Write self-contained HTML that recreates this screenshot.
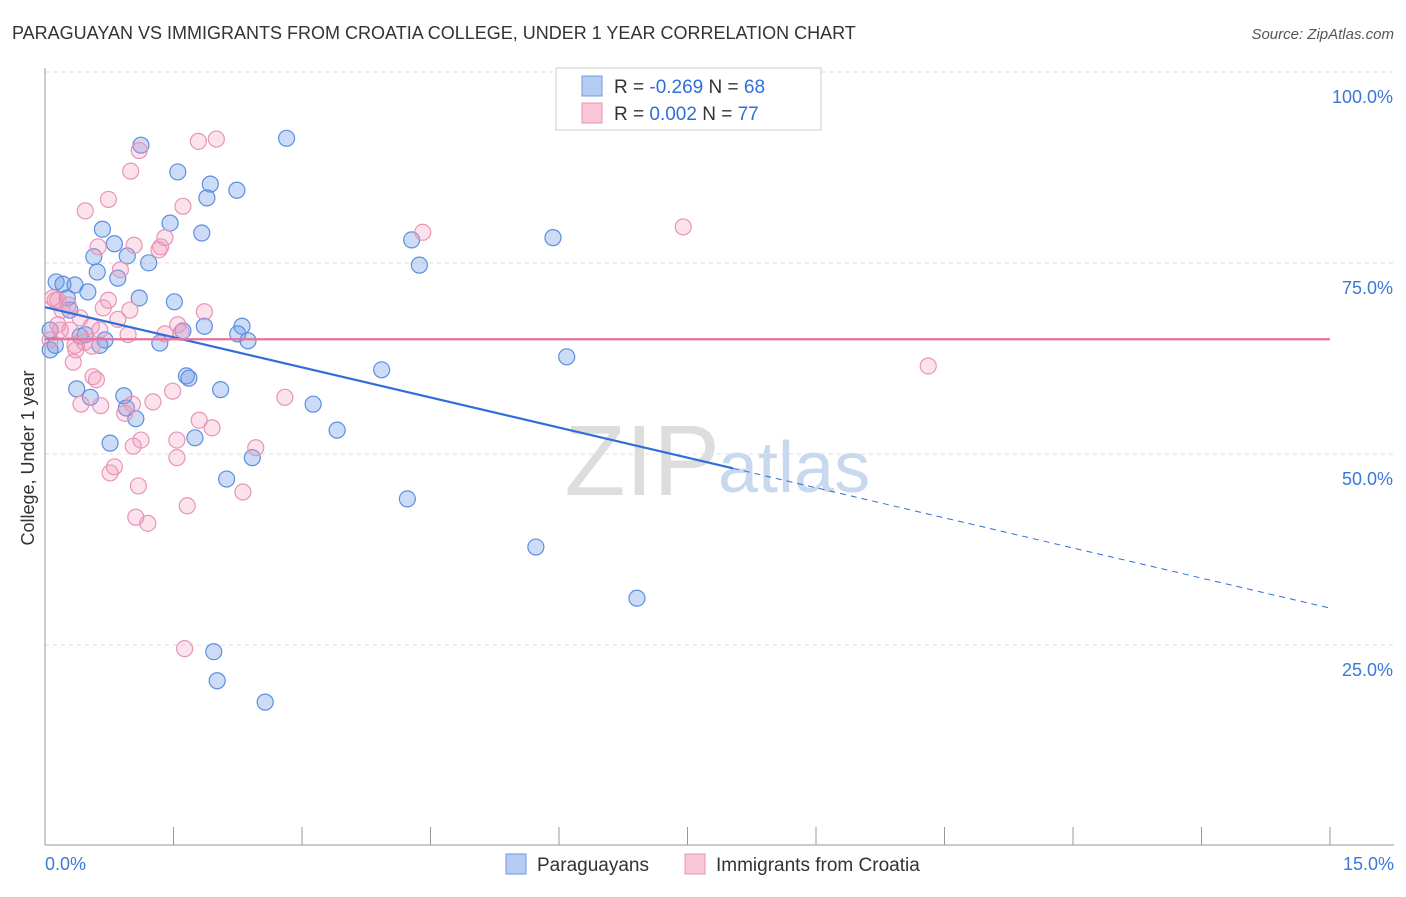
<!DOCTYPE html>
<html><head><meta charset="utf-8"><style>
body{margin:0;background:#fff;font-family:"Liberation Sans",sans-serif;}
svg text{font-family:"Liberation Sans",sans-serif;}
</style></head><body>
<svg id="chart" width="1406" height="892">
<text x="12" y="39" font-size="18" fill="#333">PARAGUAYAN VS IMMIGRANTS FROM CROATIA COLLEGE, UNDER 1 YEAR CORRELATION CHART</text>
<text x="1394" y="39" font-size="15" fill="#555" text-anchor="end" font-style="italic">Source: ZipAtlas.com</text>
<text x="720" y="495" font-size="100" fill="#ddd" text-anchor="end" font-family="Liberation Serif">ZIP</text>
<text x="718" y="492" font-size="72" fill="#c8d8ef">atlas</text>
<g id="grid"></g><g id="axes"></g><g id="pts"></g><g id="trends"></g>
<text transform="translate(34,458) rotate(-90)" font-size="18" fill="#333" text-anchor="middle">College, Under 1 year</text>
<g>
<rect x="556" y="68" width="265" height="62" fill="#fff" stroke="#ccc"/>
<rect x="582" y="76" width="20" height="20" fill="#b5cdf3" stroke="#6f9ae0"/>
<text x="614" y="93" font-size="19" fill="#333">R = <tspan fill="#2f6fd6">-0.269</tspan>   N = <tspan fill="#2f6fd6">68</tspan></text>
<rect x="582" y="103" width="20" height="20" fill="#f8c6d6" stroke="#e895b5"/>
<text x="614" y="120" font-size="19" fill="#333">R =  <tspan fill="#2f6fd6">0.002</tspan>   N = <tspan fill="#2f6fd6">77</tspan></text>
</g>
<g>
<rect x="506" y="854" width="20" height="20" fill="#b5cdf3" stroke="#6f9ae0"/>
<text x="537" y="871" font-size="19" fill="#333">Paraguayans</text>
<rect x="685" y="854" width="20" height="20" fill="#f8c6d6" stroke="#e895b5"/>
<text x="716" y="871" font-size="19" fill="#333">Immigrants from Croatia</text>
</g>
</svg>
<script>
const blueX=[2.82,1.12,1.55,1.93,2.24,1.89,1.46,1.83,0.67,0.81,4.28,5.93,0.96,0.57,1.21,4.37,0.61,0.85,0.13,0.21,0.35,0.50,0.26,1.10,1.51,1.86,2.30,1.61,2.25,0.41,0.70,1.34,2.37,0.64,6.09,3.93,1.65,1.68,0.37,2.05,0.92,0.53,0.95,3.13,1.06,1.75,3.41,0.76,2.42,2.12,4.23,5.73,6.91,1.97,2.01,2.57,0.06,0.06,0.12,0.29,0.47];
const blueY=[92.5,91.6,88.1,86.5,85.7,84.7,81.4,80.1,80.6,78.7,79.2,79.5,77.1,77.0,76.2,75.9,75.0,74.2,73.7,73.4,73.3,72.4,71.6,71.6,71.1,67.9,67.9,67.3,66.9,66.6,66.1,65.7,66.0,65.4,63.9,62.2,61.4,61.1,59.7,59.6,58.8,58.6,57.2,57.7,55.8,53.3,54.3,52.6,50.7,47.9,45.3,39.0,32.3,25.3,21.5,18.7,64.8,67.4,65.4,70.0,66.8];
const pinkX=[2.00,1.79,1.10,1.00,0.74,0.47,1.61,4.41,7.45,1.40,0.62,1.04,1.33,1.35,0.88,0.09,0.15,0.74,0.27,0.99,0.68,1.86,0.41,0.85,0.54,1.55,1.59,0.15,0.29,1.40,0.97,0.46,0.55,0.36,0.33,10.31,0.56,0.60,2.80,1.49,1.26,1.02,0.42,0.65,0.93,1.80,1.95,1.54,1.12,1.03,2.46,1.54,0.81,0.76,1.09,2.31,1.66,1.06,1.20,1.63,0.18,0.06,0.20,0.35,0.64,0.12];
const pinkY=[92.4,92.1,90.9,88.2,84.5,83.0,83.6,80.2,80.9,79.5,78.3,78.5,77.9,78.3,75.3,71.6,71.3,71.3,70.7,70.0,70.3,69.8,69.0,68.8,67.9,68.1,67.1,68.1,67.4,66.9,66.8,65.8,65.3,64.8,63.2,62.7,61.3,60.9,58.6,59.4,58.0,57.7,57.7,57.5,56.5,55.6,54.6,53.0,53.0,52.2,52.0,50.7,49.5,48.7,47.0,46.2,44.4,42.9,42.1,25.7,67.4,66.1,70.0,65.4,67.4,71.3];
const blueTrend=[70.4,31.0]; // at x=0 and x=15
const pinkTrend=[66.2,66.2];
const yTicks=[100,75,50,25];
const NS="http://www.w3.org/2000/svg";
const X0=45,X1=1330,Y0=845,Y100=81;
const sx=v=>X0+(v/15)*(X1-X0);
const sy=v=>Y0-(v/100)*(Y0-Y100);
function mk(tag,attrs,parent){const e=document.createElementNS(NS,tag);for(const k in attrs)e.setAttribute(k,attrs[k]);parent.appendChild(e);return e;}
const grid=document.getElementById('grid'),axes=document.getElementById('axes'),pts=document.getElementById('pts'),tr=document.getElementById('trends');
yTicks.forEach(t=>{
 const l=mk('line',{x1:X0,x2:1394,y1:sy(t)-9,y2:sy(t)-9,stroke:'#ddd','stroke-dasharray':'4,4'},grid);
 
 
 const tx=mk('text',{x:1393,y:sy(t)+22,'font-size':18,fill:'#3b78d8','text-anchor':'end'},grid);
 tx.textContent=t.toFixed(1)+'%';
 
 
});
const ax=mk('line',{x1:X0,x2:1394,y1:Y0,y2:Y0,stroke:'#999'},axes);


const ay=mk('line',{x1:X0,x2:X0,y1:68,y2:Y0,stroke:'#999'},axes);


for(let i=0;i<=10;i++){
 const t=mk('line',{x1:sx(i*1.5),x2:sx(i*1.5),y1:Y0,y2:827,stroke:'#999'},axes);
 
 
}
[[0,'0.0%','start',45],[15,'15.0%','end',1394]].forEach(d=>{
 const t=mk('text',{x:d[3],y:870,'font-size':18,fill:'#3b78d8','text-anchor':d[2]},axes);
 t.textContent=d[1];
 
 
});
function dots(xs,ys,fill,stroke,name){
 xs.forEach((x,i)=>{
  const c=mk('circle',{cx:sx(x),cy:sy(ys[i]),r:8,fill:fill,stroke:stroke,'stroke-width':1.2},pts);
  
  
 });
}
dots(blueX,blueY,'rgba(110,155,230,0.35)','#5b8fe0','paraguayan-point');
dots(pinkX,pinkY,'rgba(240,150,185,0.28)','#e895b5','croatia-point');
const bx=(733-X0)/(X1-X0)*15;
const by=blueTrend[0]+(blueTrend[1]-blueTrend[0])*bx/15;
const b1=mk('line',{x1:sx(0),y1:sy(blueTrend[0]),x2:sx(bx),y2:sy(by),stroke:'#2f6fd6','stroke-width':2.2},tr);


const b2=mk('line',{x1:sx(bx),y1:sy(by),x2:sx(15),y2:sy(blueTrend[1]),stroke:'#2f6fd6','stroke-width':1,'stroke-dasharray':'6,5'},tr);


const p1=mk('line',{x1:sx(0),y1:sy(pinkTrend[0]),x2:sx(15),y2:sy(pinkTrend[1]),stroke:'#e8709a','stroke-width':2.2},tr);


</script>
</body></html>
